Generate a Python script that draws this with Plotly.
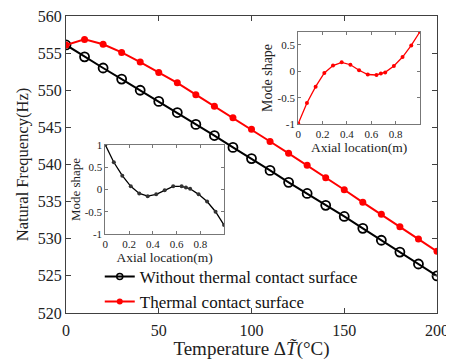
import plotly.graph_objects as go

temperature = [0, 10, 20, 30, 40, 50, 60, 70, 80, 90, 100, 110, 120, 130, 140, 150, 160, 170, 180, 190, 200]
freq_without = [556.1, 554.5, 553.0, 551.5, 550.0, 548.5, 547.0, 545.4, 543.9, 542.3, 540.8,
                539.2, 537.6, 536.1, 534.5, 533.0, 531.4, 529.8, 528.2, 526.6, 525.0]
freq_contact = [556.1, 556.85, 556.2, 555.1, 553.8, 552.4, 551.0, 549.4, 547.85, 546.3, 544.75,
                543.1, 541.5, 539.9, 538.2, 536.6, 534.9, 533.3, 531.6, 529.95, 528.3]

axial = [0, 0.0714, 0.1429, 0.2143, 0.2857, 0.3571, 0.4286, 0.5, 0.5714, 0.6429, 0.679,
         0.7143, 0.7857, 0.8571, 0.9286, 1.0]
mode_contact = [-0.99, -0.6, -0.29, -0.03, 0.11, 0.17, 0.125, 0.02, -0.06, -0.07, -0.04,
                -0.02, 0.1, 0.27, 0.49, 0.75]
mode_without = [1.0, 0.61, 0.31, 0.07, -0.09, -0.15, -0.11, -0.02, 0.07, 0.07, 0.045,
                0.015, -0.11, -0.27, -0.5, -0.8]

FONT = "Liberation Serif, Times New Roman, serif"
AX = "#404040"

fig = go.Figure()
fig.add_trace(go.Scatter(x=temperature, y=freq_without, mode="lines+markers",
                         name="Without thermal contact surface", showlegend=False,
                         line=dict(color="black", width=2),
                         marker=dict(symbol="circle-open", size=9, color="black", line=dict(width=1.8))))
fig.add_trace(go.Scatter(x=temperature, y=freq_contact, mode="lines+markers",
                         name="Thermal contact surface", showlegend=False,
                         line=dict(color="#ff0000", width=2),
                         marker=dict(symbol="circle", size=7, color="#ff0000")))
# legend entries (small markers as in the reference legend)
fig.add_trace(go.Scatter(x=[None], y=[None], mode="lines+markers",
                         name="Without thermal contact surface",
                         line=dict(color="black", width=2),
                         marker=dict(symbol="circle-open", size=6, color="black", line=dict(width=1.5))))
fig.add_trace(go.Scatter(x=[None], y=[None], mode="lines+markers",
                         name="Thermal contact surface",
                         line=dict(color="#ff0000", width=2),
                         marker=dict(symbol="circle", size=6, color="#ff0000")))
fig.add_trace(go.Scatter(x=axial, y=mode_contact, mode="lines+markers", xaxis="x2", yaxis="y2",
                         showlegend=False, line=dict(color="#ff0000", width=1.3),
                         marker=dict(symbol="circle", size=4, color="#ff0000")))
fig.add_trace(go.Scatter(x=axial, y=mode_without, mode="lines+markers", xaxis="x3", yaxis="y3",
                         showlegend=False, line=dict(color="black", width=1.3),
                         marker=dict(symbol="circle", size=4, color="#333333")))

main_ax = dict(showline=True, linecolor=AX, linewidth=1, mirror="ticks", ticks="inside",
               ticklen=5, tickcolor=AX, showgrid=False, zeroline=False, automargin=False,
               ticklabeloverflow="allow",
               tickfont=dict(family=FONT, size=16, color="#222"))
inset_ax = dict(showline=True, linecolor="#777", linewidth=1, mirror="ticks", ticks="inside",
                ticklen=3, tickcolor="#777", showgrid=False, zeroline=False, automargin=False,
                tickfont=dict(family=FONT, size=11, color="#222"))

fig.update_layout(
    width=446, height=352,
    margin=dict(l=58, r=17, t=8, b=47, autoexpand=False),
    plot_bgcolor="white", paper_bgcolor="white",
    font=dict(family=FONT, color="#222"),
    xaxis=dict(main_ax, range=[0, 200], tickvals=[0, 50, 100, 150, 200], ticklabelstandoff=3,
               title=dict(text="Temperature Δ<i>T̃</i>(°C)", font=dict(family=FONT, size=19), standoff=11)),
    yaxis=dict(main_ax, range=[520, 560], tickvals=[520, 525, 530, 535, 540, 545, 550, 555, 560],
               title=dict(text="Natural Frequency(Hz)", font=dict(family=FONT, size=16.5), standoff=5)),
    xaxis2=dict(inset_ax, domain=[0.626, 0.954], anchor="y2", range=[0, 1.0],
                tickvals=[0, 0.2, 0.4, 0.6, 0.8], ticktext=["0", "0.2", "0.4", "0.6", "0.8"],
                title=dict(text="Axial location(m)", font=dict(family=FONT, size=13.5), standoff=1)),
    yaxis2=dict(inset_ax, domain=[0.636, 0.947], anchor="x2", range=[-1, 0.75],
                tickvals=[-1, -0.5, 0, 0.5], ticktext=["-1", "-0.5", "0", "0.5"],
                title=dict(text="Mode shape", font=dict(family=FONT, size=14), standoff=1)),
    xaxis3=dict(inset_ax, domain=[0.106, 0.426], anchor="y3", range=[0, 1.0],
                tickvals=[0, 0.2, 0.4, 0.6, 0.8], ticktext=["0", "0.2", "0.4", "0.6", "0.8"],
                title=dict(text="Axial location(m)", font=dict(family=FONT, size=13.5), standoff=1)),
    yaxis3=dict(inset_ax, domain=[0.266, 0.566], anchor="x3", range=[-1, 1],
                tickvals=[-1, -0.5, 0, 0.5, 1], ticktext=["-1", "-0.5", "0", "0.5", "1"],
                title=dict(text="Mode shape", font=dict(family=FONT, size=13), standoff=1)),
    legend=dict(x=0.091, y=0.182, xanchor="left", yanchor="top", bgcolor="rgba(0,0,0,0)",
                font=dict(family=FONT, size=17, color="#111"), tracegroupgap=0,
                itemwidth=30),
)

fig.write_html("out.html")
